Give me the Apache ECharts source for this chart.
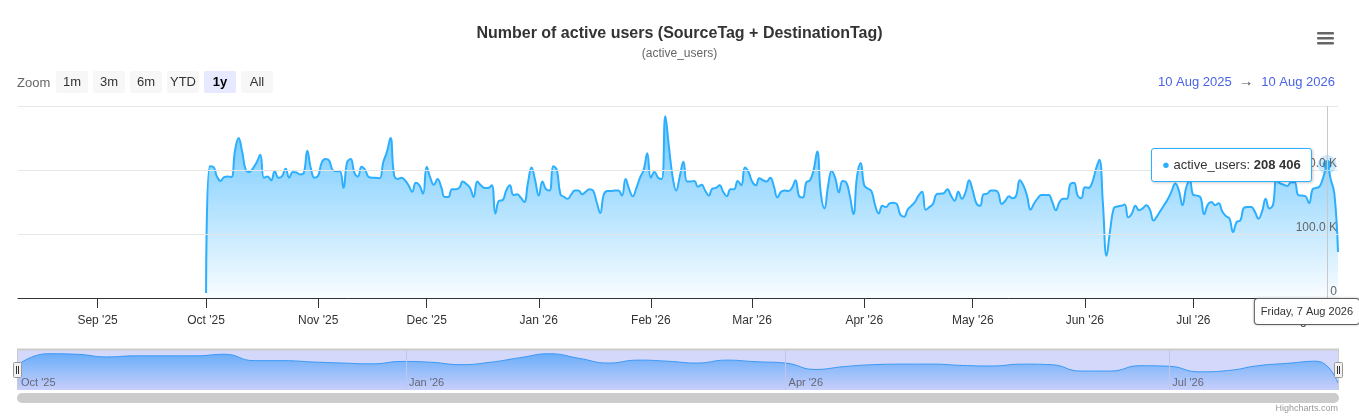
<!DOCTYPE html>
<html>
<head>
<meta charset="utf-8">
<script src="https://cdn.jsdelivr.net/npm/echarts@6/dist/echarts.min.js"></script>
<style>
html, body { margin: 0; padding: 0; background: #fff; }
#main { width: 1359px; height: 420px; }
</style>
</head>
<body>
<div id="main"></div>
<script>
// active users per day, in thousands, from 1 Oct 2025 to 10 Aug 2026
var usersK = [
  // Oct 2025
  8,206,205,190,183,189,190,189,230,250,228,200,197,203,212,224,188,190,184,198,188,190,202,188,197,196,193,195,230,202,188,
  // Nov
  191,212,217,215,200,198,198,172,212,217,196,190,205,200,189,188,188,187,212,228,250,192,186,188,184,176,166,180,176,163,
  // Dec
  205,188,177,186,174,158,158,170,170,172,182,178,172,158,182,176,172,172,176,132,152,153,168,176,161,162,157,150,180,204,184,
  // Jan 2026
  160,182,170,168,206,200,162,158,155,162,168,168,162,166,170,168,150,133,162,167,167,168,168,160,186,170,159,172,188,200,226,
  // Feb
  188,197,188,186,284,236,190,168,190,213,182,182,183,174,177,168,160,171,172,176,166,159,170,170,183,176,204,197,
  // Mar
  182,176,187,184,182,188,175,157,166,168,167,172,184,159,157,181,184,200,229,163,140,175,199,187,165,183,181,160,131,190,211,
  // Apr
  176,171,167,145,132,144,142,148,149,147,130,127,138,144,150,160,166,138,142,147,162,163,164,170,160,152,166,155,165,184,
  // May
  168,148,144,162,163,168,168,165,147,152,159,156,160,184,176,160,138,148,156,161,161,161,150,137,150,155,155,178,180,160,156,
  // Jun
  173,172,180,200,216,147,66,106,140,143,144,146,126,132,144,137,140,145,138,121,128,137,146,155,167,179,168,145,172,184,
  // Jul
  161,160,157,131,146,150,145,148,135,128,124,103,119,121,141,142,142,135,124,135,155,140,145,184,179,177,175,181,181,161,160,
  // Aug
  159,148,170,172,175,190,208.406,185,163,72
]

// navigator series (grouped), one point a week from 1 Oct 2025, last one on 10 Aug 2026
var navUsersK = [165,206,204,194,198,198,198,204,180,180,175,171,168,177,174,165,174,191,206,189,171,182,178,171,182,176,171,147,158,165,167,167,162,160,167,165,141,141,161,159,138,143,161,170,178,96]

var mainTicks = ['2025-09','2025-10','2025-11','2025-12','2026-01','2026-02','2026-03','2026-04','2026-05','2026-06','2026-07','2026-08']
var navTicks = ['2025-10','2026-01','2026-04','2026-07']
var zoomButtons = ['1m','3m','6m','YTD','1y','All']
var selectedButton = '1y'
var rangeFrom = '10 Aug 2025'
var rangeTo = '10 Aug 2026'
var hoverDate = '2026-08-07'

var monNames = ['Jan','Feb','Mar','Apr','May','Jun','Jul','Aug','Sep','Oct','Nov','Dec']
var dayNames = ['Sunday','Monday','Tuesday','Wednesday','Thursday','Friday','Saturday']

function toTime(s) {
  var p = s.split('-')
  return new Date(+p[0], +p[1] - 1, +(p[2] || 1)).getTime()
}
function monthLabel(v) {
  var t = new Date(v)
  return monNames[t.getMonth()] + " '" + String(t.getFullYear()).slice(2)
}
function longDate(v) {
  var t = new Date(v)
  return dayNames[t.getDay()] + ', ' + t.getDate() + ' ' + monNames[t.getMonth()] + ' ' + t.getFullYear()
}
function spaced(n) {
  return String(Math.round(n)).replace(/\B(?=(\d{3})+(?!\d))/g, ' ')
}

var mainData = usersK.map(function (v, i) {
  return [new Date(2025, 9, 1 + i).getTime(), Math.round(v * 1000)]
})
var navData = navUsersK.map(function (v, i) {
  var day = i < navUsersK.length - 1 ? i * 7 : usersK.length - 1
  return [new Date(2025, 9, 1 + day).getTime(), v]
})
var hoverIndex = mainData.findIndex(function (p) { return p[0] === toTime(hoverDate) })

var font = '"Liberation Sans", Arial, Helvetica, sans-serif'
var graphics = []

graphics.push({ type: 'text', x: 17, y: 83, style: { text: 'Zoom', fill: '#666', font: '13px ' + font, verticalAlign: 'middle' } })
zoomButtons.forEach(function (b, i) {
  var on = b === selectedButton
  graphics.push({ type: 'rect', shape: { x: 56 + 37 * i, y: 71, width: 32, height: 22, r: 2 }, style: { fill: on ? '#e6e9ff' : '#f7f7f7' } })
  graphics.push({ type: 'text', x: 72 + 37 * i, y: 82, style: { text: b, fill: on ? '#000' : '#333', font: (on ? 'bold ' : '') + '13px ' + font, align: 'center', verticalAlign: 'middle' } })
})
graphics.push({ type: 'text', x: 1158, y: 82, style: { text: rangeFrom, fill: '#4a63e7', font: '13px ' + font, verticalAlign: 'middle' } })
graphics.push({ type: 'text', x: 1246, y: 82, style: { text: '\u2192', fill: '#555', font: '15px ' + font, align: 'center', verticalAlign: 'middle' } })
graphics.push({ type: 'text', x: 1335, y: 82, style: { text: rangeTo, fill: '#4a63e7', font: '13px ' + font, align: 'right', verticalAlign: 'middle' } })

// export menu icon
;[32, 37, 42].forEach(function (y) {
  graphics.push({ type: 'rect', shape: { x: 1317, y: y, width: 17, height: 2.6, r: 1 }, style: { fill: '#666' } })
})

// navigator frame, handles and scrollbar
graphics.push({ type: 'line', shape: { x1: 17, y1: 349.5, x2: 1339, y2: 349.5 }, style: { stroke: '#cccccc', lineWidth: 2 }, z: 10 })
graphics.push({ type: 'line', shape: { x1: 17.5, y1: 349, x2: 17.5, y2: 390 }, style: { stroke: '#cccccc', lineWidth: 1 }, z: 10 })
graphics.push({ type: 'line', shape: { x1: 1338.5, y1: 349, x2: 1338.5, y2: 390 }, style: { stroke: '#cccccc', lineWidth: 1 }, z: 10 })
;[13, 1334].forEach(function (x) {
  graphics.push({ type: 'rect', shape: { x: x + 0.5, y: 362.5, width: 8, height: 15, r: 1 }, style: { fill: '#f2f2f2', stroke: '#999', lineWidth: 1 }, z: 11 })
  graphics.push({ type: 'line', shape: { x1: x + 3.5, y1: 366, x2: x + 3.5, y2: 374 }, style: { stroke: '#333', lineWidth: 1 }, z: 12 })
  graphics.push({ type: 'line', shape: { x1: x + 5.5, y1: 366, x2: x + 5.5, y2: 374 }, style: { stroke: '#333', lineWidth: 1 }, z: 12 })
})
graphics.push({ type: 'rect', shape: { x: 17, y: 393, width: 1322, height: 10, r: 5 }, style: { fill: '#cccccc' } })
graphics.push({ type: 'text', x: 1338, y: 409, style: { text: 'Highcharts.com', fill: '#999', font: '9px ' + font, align: 'right', verticalAlign: 'middle' } })

var chart = echarts.init(document.getElementById('main'))

var option = {
  animation: false,
  textStyle: { fontFamily: font },
  title: {
    text: 'Number of active users (SourceTag + DestinationTag)',
    subtext: '(active_users)',
    left: 'center',
    top: 21,
    itemGap: 6,
    textStyle: { fontSize: 16, fontWeight: 'bold', color: '#333' },
    subtextStyle: { fontSize: 12, color: '#666' }
  },
  grid: [
    { left: 18, right: 21, top: 106, height: 192 },
    { left: 18, right: 21, top: 350, height: 40, show: true, backgroundColor: '#d4d8fa', borderWidth: 0 }
  ],
  tooltip: {
    trigger: 'axis',
    alwaysShowContent: true,
    backgroundColor: '#fff',
    borderColor: '#2caffe',
    borderWidth: 1,
    borderRadius: 3,
    padding: [6, 10],
    extraCssText: 'box-shadow: 1px 1px 3px rgba(0,0,0,0.2);',
    textStyle: { fontFamily: font, fontSize: 13, color: '#333' },
    axisPointer: { type: 'line', lineStyle: { color: '#c8c8c8', width: 1, type: 'solid' } },
    position: function (point, params, dom, rect, size) {
      return [point[0] - size.contentSize[0] - 15, point[1] - size.contentSize[1] / 2]
    },
    formatter: function (params) {
      var p = params[0]
      return '<span style="color:#2caffe">\u25CF</span> active_users: <b>' + spaced(p.value[1]) + '</b>'
    }
  },
  xAxis: [
    {
      type: 'value',
      gridIndex: 0,
      z: 6,
      min: toTime('2025-08-10'),
      max: toTime('2026-08-10'),
      axisLine: { onZero: false, lineStyle: { color: '#333', width: 1 } },
      axisTick: { show: true, length: 10, lineStyle: { color: '#333' }, customValues: mainTicks.map(toTime) },
      axisLabel: { color: '#333', fontSize: 12, margin: 17, customValues: mainTicks.map(toTime), formatter: monthLabel },
      splitLine: { show: false },
      axisPointer: {
        label: {
          show: true,
          formatter: function (p) { return longDate(p.value) },
          backgroundColor: '#fff',
          borderColor: '#666',
          borderWidth: 1,
          borderRadius: 3,
          color: '#333',
          fontSize: 11,
          padding: [7, 6],
          margin: 1,
          shadowBlur: 3,
          shadowColor: 'rgba(0,0,0,0.2)'
        }
      }
    },
    {
      type: 'value',
      gridIndex: 1,
      z: 5,
      min: toTime('2025-10-01'),
      max: toTime('2026-08-10'),
      axisLine: { show: false, onZero: false },
      axisTick: { show: false },
      axisLabel: {
        inside: true,
        customValues: navTicks.map(toTime),
        formatter: monthLabel,
        color: '#666677',
        fontSize: 11,
        align: 'left',
        verticalAlign: 'bottom',
        margin: 2,
        padding: [0, 0, 0, 3]
      },
      splitLine: { show: false },
      axisPointer: { show: false }
    }
  ],
  yAxis: [
    {
      type: 'value',
      gridIndex: 0,
      position: 'right',
      z: 5,
      min: 0,
      max: 300000,
      interval: 100000,
      axisLine: { show: false },
      axisTick: { show: false },
      splitLine: { lineStyle: { color: '#e6e6e6' } },
      axisLabel: {
        inside: true,
        showMaxLabel: false,
        verticalAlign: 'bottom',
        margin: 1,
        color: '#666',
        fontSize: 12,
        formatter: function (v) { return v === 0 ? '0' : (v / 1000).toFixed(1) + ' K' }
      }
    },
    {
      type: 'value',
      gridIndex: 1,
      min: 70,
      max: 220,
      show: false
    }
  ],
  series: [
    {
      name: 'active_users',
      type: 'line',
      xAxisIndex: 0,
      yAxisIndex: 0,
      data: mainData,
      smooth: 0.45,
      showSymbol: false,
      symbol: 'circle',
      symbolSize: 8,
      lineStyle: { color: '#2caffe', width: 2 },
      itemStyle: { color: '#2caffe' },
      areaStyle: {
        color: new echarts.graphic.LinearGradient(0, 0, 0, 1, [
          { offset: 0, color: 'rgba(44,175,254,1)' },
          { offset: 1, color: 'rgba(44,175,254,0.04)' }
        ])
      },
      emphasis: { disabled: true },
      markPoint: {
        silent: true,
        symbol: 'circle',
        symbolSize: 8,
        label: { show: false },
        itemStyle: { color: '#2caffe', borderColor: 'rgba(44,175,254,0.25)', borderWidth: 11 },
        data: [{ coord: mainData[hoverIndex] }]
      }
    },
    {
      type: 'line',
      xAxisIndex: 1,
      yAxisIndex: 1,
      data: navData,
      smooth: 0.5,
      showSymbol: false,
      silent: true,
      lineStyle: { color: '#3a98f7', width: 1 },
      areaStyle: {
        color: new echarts.graphic.LinearGradient(0, 0, 0, 1, [
          { offset: 0, color: '#3d9cf8' },
          { offset: 1, color: '#c2cbfb' }
        ])
      },
      markLine: {
        silent: true,
        symbol: 'none',
        label: { show: false },
        lineStyle: { color: '#c2c6ec', width: 1, type: 'solid' },
        data: navTicks.slice(1).map(function (t) { return { xAxis: toTime(t) } })
      }
    }
  ],
  graphic: graphics
}

chart.setOption(option)
chart.dispatchAction({ type: 'showTip', seriesIndex: 0, dataIndex: hoverIndex })
</script>
</body>
</html>
